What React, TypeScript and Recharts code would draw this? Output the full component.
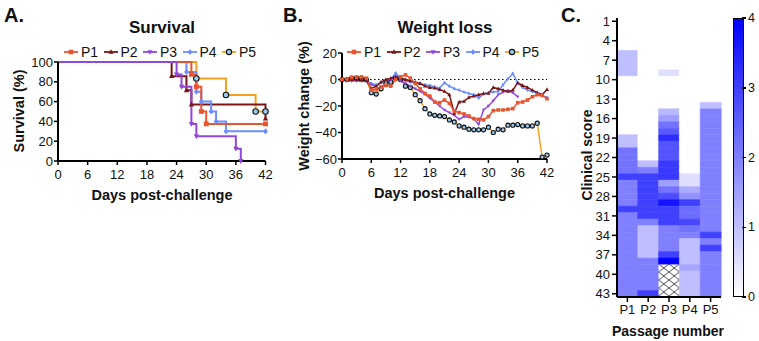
import React from "react";
import { LineChart, Line, XAxis, YAxis, ReferenceLine, BarChart, Bar, Cell } from "recharts";

const FONT = '"Liberation Sans", Arial, Helvetica, sans-serif';

const passages = ["P1", "P2", "P3", "P4", "P5"];
const lineColors = ["#e8552f", "#7a1616", "#9148d8", "#6c8dff", "#f6a022"];
const markerKinds = ["square", "triangle", "invtriangle", "diamond", "circle"];
const circleFill = "#9ccbf0";

// A. survival, Kaplan-Meier steps
const survDaysP1 = [0, 27, 28, 29, 30, 42];
const survP1 = [100, 87.5, 75, 50, 37.5, 37.5];
const survDaysP2 = [0, 23, 26, 27, 42];
const survP2 = [100, 85.7, 71.4, 57.1, 42.9];
const survDaysP3 = [0, 24, 25, 27, 28, 36, 37];
const survP3 = [100, 87.5, 75, 37.5, 25, 12.5, 0];
const survDaysP4 = [0, 26, 28, 29, 31, 32, 34, 42];
const survP4 = [100, 90, 70, 60, 50, 40, 30, 30];
const survDaysP5 = [0, 28, 34, 40, 42];
const survP5 = [100, 83.3, 66.7, 50, 50];

const dayTicks = [0, 6, 12, 18, 24, 30, 36, 42];
const survTicks = [0, 20, 40, 60, 80, 100];

// B. weight change (%)
const weightDays = [0, 1, 2, 3, 4, 5, 6, 7, 8, 9, 10, 11, 12, 13, 14, 15, 16, 17, 18, 19, 20, 21, 22, 23, 24, 25, 26, 27, 28, 29, 30, 31, 32, 33, 34, 35, 36, 37, 38, 39, 40, 41, 42];
const wP1 = [0, 0.5, 1.5, 2, 2, 1, -8, -7.5, -5.5, -4.5, -5, 0, 2, 3.5, 1, -3, -7, -10.5, -12.5, -17, -17.5, -15.5, -18, -24, -25, -26, -27.5, -29.5, -30, -30.5, -28, -23.5, -23, -23, -22.5, -22, -17.5, -17, -15.5, -13, -11.5, -12, -14.5];
const wP2 = [0, 0, 0, 0, 0, -1, -7, -5, -2, 0, 1, 2, 1, 0, -1, -2, -3, -5, -6, -6.5, -7.5, -9, -11.5, -25.5, -17, -16.5, -13.5, -12.5, -11.5, -10.5, -10.5, -6, -7, -8, -9, -8, -2.5, -4.5, -6, -8, -10, -11.5, -7.5];
const wP3 = [0, -1, -1, -1, -1, -1, -4, -5, -2, -1, 0, 2, -1, -3, -5, -7, -9, -11, -14, -17, -20, -23, -25, -27, -30, -28, -28.5, -29.5, -34, -23, -20, -16, -11.5, -9.5, -8.5, -10, -13, null, null, null, null, null, null];
const wP4 = [0, -1, -1, -1, -1, -1, -3, -4, -2, -1, 0, 5, 1, -1, -2, -3, -3, -4, -4.5, -5.5, -6.5, -2.5, -5, -7, -8, -9.5, -10.5, -11.5, -14, -11, -10, -9.5, -9, -4, 0.5, 4.5, -2.5, -6, -8, -9, -10, -12, -13.5];
const wP5 = [0, 0, 1, 1, 0, 0, -10, -11, -7, -3, -2, 1, 0, -5, -6, -11.5, -16, -22, -26, -27, -27.5, -28, -30.5, -32, -35, -36, -37.5, -38, -38, -38, -36, -40, -37.5, -38, -34.5, -34.5, -34, -35, -35, -35, -33, -58.5, -57];
const weightTicks = [-60, -40, -20, 0, 20];

// C. clinical score per day (1..43) per passage; null = no animals left
const scoreDays = [1, 2, 3, 4, 5, 6, 7, 8, 9, 10, 11, 12, 13, 14, 15, 16, 17, 18, 19, 20, 21, 22, 23, 24, 25, 26, 27, 28, 29, 30, 31, 32, 33, 34, 35, 36, 37, 38, 39, 40, 41, 42, 43];
const scoreP1 = [0, 0, 0, 0, 0, 1, 1, 1, 1, 0, 0, 0, 0, 0, 0, 0, 0, 0, 1, 1, 2.2, 2.2, 2.2, 2.2, 3, 2, 2, 2, 2, 3, 2, 2, 2, 2, 2, 2, 2, 2, 2, 2, 2, 2, 2];
const scoreP2 = [0, 0, 0, 0, 0, 0, 0, 0, 0, 0, 0, 0, 0, 0, 0, 0, 0, 0, 0, 0, 0, 0, 1, 2, 3, 3, 3, 3, 3, 3, 3, 2, 1, 1, 1, 1, 1, 2, 2, 2, 2, 2, 3];
const scoreP3 = [0, 0, 0, 0, 0, 0, 0, 0, 0.5, 0, 0, 0, 0, 0, 1.1, 1.5, 2.2, 2.6, 3.3, 2.7, 2.7, 2.7, 3.1, 3.1, 3.1, 1.5, 2.2, 2.8, 3.7, 3, 3, 3, 2, 2, 2, 2, 3, 4, null, null, null, null, null];
const scoreP4 = [0, 0, 0, 0, 0, 0, 0, 0, 0, 0, 0, 0, 0, 0, 0, 0, 0, 0, 0, 0, 0, 0, 0, 0, 0.5, 0.5, 1.3, 1.7, 3, 2.3, 2.3, 2.9, 2.2, 2, 1, 1, 1, 1, 1.4, 1, 1, 1, 1];
const scoreP5 = [0, 0, 0, 0, 0, 0, 0, 0, 0, 0, 0, 0, 0, 1, 2, 2, 2, 2, 2, 2, 2, 2, 2, 2, 2, 2, 2, 2, 2, 2, 2, 2, 2, 3, 2, 3, 2, 2, 2, 2, 2, 2, 2];
const scoreTicks = [1, 4, 7, 10, 13, 16, 19, 22, 25, 28, 31, 34, 37, 40, 43];
const colorbarTicks = [0, 1, 2, 3, 4];

const survData = [
  [survDaysP1, survP1],
  [survDaysP2, survP2],
  [survDaysP3, survP3],
  [survDaysP4, survP4],
  [survDaysP5, survP5],
].map(([days, vals]) => days.map((day, i) => ({ day, v: vals[i] })));

const weightSeries = [wP1, wP2, wP3, wP4, wP5];
const weightRows = weightDays.map((day, i) => {
  const row: any = { day };
  passages.forEach((p, k) => (row[p] = weightSeries[k][i]));
  return row;
});

const scoreSeries = [scoreP1, scoreP2, scoreP3, scoreP4, scoreP5];
const heatRows = passages.map((p) => {
  const row: any = { name: p };
  scoreDays.forEach((d) => (row[`d${d}`] = 1));
  return row;
});

function heatColor(s: number | null) {
  if (s == null) return "url(#hatch)";
  const c = Math.round(255 * (1 - s / 4));
  return `rgb(${c},${c},255)`;
}

const minus = (v: number) => (v < 0 ? `\u2212${Math.abs(v)}` : `${v}`);

function Marker({ kind, cx, cy, color, s }: any) {
  if (cx == null || cy == null) return null;
  if (kind === "square")
    return <rect x={cx - s} y={cy - s} width={2 * s} height={2 * s} fill={color} />;
  if (kind === "triangle")
    return <polygon points={`${cx},${cy - s * 1.2} ${cx + s * 1.1},${cy + s * 0.8} ${cx - s * 1.1},${cy + s * 0.8}`} fill={color} />;
  if (kind === "invtriangle")
    return <polygon points={`${cx},${cy + s * 1.2} ${cx + s * 1.1},${cy - s * 0.8} ${cx - s * 1.1},${cy - s * 0.8}`} fill={color} />;
  if (kind === "diamond")
    return <polygon points={`${cx},${cy - s * 1.3} ${cx + s},${cy} ${cx},${cy + s * 1.3} ${cx - s},${cy}`} fill={color} />;
  return <circle cx={cx} cy={cy} r={s * 1.15} fill={circleFill} stroke="#111" strokeWidth={1.1} />;
}

const makeDot = (k: number, s: number, skipFirst: boolean) => (props: any) => {
  const { cx, cy, index } = props;
  if ((skipFirst && index === 0) || cx == null || cy == null) return <g key={`d${index}`} />;
  return (
    <g key={`d${index}`}>
      <Marker kind={markerKinds[k]} cx={cx} cy={cy} color={lineColors[k]} s={s} />
    </g>
  );
};

function Txt({ x, y, size, bold = true, rotate = false, children }: any) {
  return (
    <div
      style={{
        position: "absolute",
        left: x,
        top: y,
        transform: `translate(-50%, -50%)${rotate ? " rotate(-90deg)" : ""}`,
        whiteSpace: "nowrap",
        fontSize: size,
        fontWeight: bold ? 700 : 400,
        lineHeight: 1,
        color: "#111",
      }}
    >
      {children}
    </div>
  );
}

function LegendRow({ left, top, step }: any) {
  return (
    <div style={{ position: "absolute", left, top, display: "flex", fontSize: 14, lineHeight: "14px", color: "#111" }}>
      {passages.map((p, i) => (
        <div key={p} style={{ display: "flex", alignItems: "center", width: step }}>
          <svg width={14} height={10}>
            <line x1={0} y1={5} x2={14} y2={5} stroke={lineColors[i]} strokeWidth={1.8} />
            <Marker kind={markerKinds[i]} cx={7} cy={5} color={lineColors[i]} s={2.3} />
          </svg>
          <span style={{ marginLeft: 3 }}>{p}</span>
        </div>
      ))}
    </div>
  );
}

const axisLine = { stroke: "#000", strokeWidth: 2 };
const tickLine = { stroke: "#000", strokeWidth: 1.5 };
const tickStyle = { fill: "#111", fontSize: 13, fontFamily: FONT };

export default function App() {
  return (
    <div style={{ position: "absolute", left: 0, top: 0, width: 759, height: 341, background: "#fff", fontFamily: FONT, overflow: "hidden" }}>
      {/* A. Survival */}
      <Txt x={14} y={15} size={20}>A.</Txt>
      <Txt x={162} y={27} size={17}>Survival</Txt>
      <Txt x={19} y={111} size={14.5} rotate>Survival (%)</Txt>
      <Txt x={162} y={195} size={14.5}>Days post-challenge</Txt>
      <div style={{ position: "absolute", left: 0, top: 0 }}>
        <LineChart width={280} height={200} margin={{ top: 62, right: 14.5, bottom: 19, left: 0 }}>
          <XAxis dataKey="day" type="number" domain={[0, 42]} ticks={dayTicks} interval={0} height={20} axisLine={axisLine} tickLine={tickLine} tickSize={4} tickMargin={5} tick={tickStyle} allowDuplicatedCategory={false} />
          <YAxis type="number" domain={[0, 100]} ticks={survTicks} interval={0} width={58} axisLine={axisLine} tickLine={tickLine} tickSize={4} tickMargin={1} tick={tickStyle} />
          {[4, 1, 3, 0, 2].map((k) => (
            <Line
              key={passages[k]}
              data={survData[k]}
              dataKey="v"
              type="stepAfter"
              stroke={lineColors[k]}
              strokeWidth={2}
              dot={makeDot(k, 2.4, true)}
              isAnimationActive={false}
            />
          ))}
        </LineChart>
      </div>
      <LegendRow left={64} top={45} step={39.5} />

      {/* B. Weight loss */}
      <Txt x={293} y={15} size={20}>B.</Txt>
      <Txt x={445} y={27} size={17}>Weight loss</Txt>
      <Txt x={304} y={106} size={14.5} rotate>Weight change (%)</Txt>
      <Txt x={444.5} y={193} size={14.5}>Days post-challenge</Txt>
      <div style={{ position: "absolute", left: 280, top: 0 }}>
        <LineChart width={290} height={200} data={weightRows} margin={{ top: 53, right: 23, bottom: 21, left: 0 }}>
          <XAxis dataKey="day" type="number" domain={[0, 42]} ticks={dayTicks} interval={0} height={20} axisLine={axisLine} tickLine={tickLine} tickSize={4} tickMargin={5} tick={tickStyle} />
          <YAxis type="number" domain={[-60, 20]} ticks={weightTicks} interval={0} width={62} axisLine={axisLine} tickLine={tickLine} tickSize={4} tickMargin={1} tick={tickStyle} tickFormatter={minus} />
          <ReferenceLine y={0} stroke="#000" strokeWidth={1} strokeDasharray="1.5 2.5" />
          {[4, 3, 2, 1, 0].map((k) => (
            <Line
              key={passages[k]}
              dataKey={passages[k]}
              type="linear"
              stroke={lineColors[k]}
              strokeWidth={1.5}
              dot={makeDot(k, k === 2 || k === 3 ? 1.5 : 1.8, false)}
              isAnimationActive={false}
            />
          ))}
        </LineChart>
      </div>
      <LegendRow left={347} top={45} step={39.5} />

      {/* C. Clinical score heatmap */}
      <Txt x={571} y={15} size={20}>C.</Txt>
      <Txt x={587} y={155} size={14} rotate>Clinical score</Txt>
      <Txt x={668} y={331} size={14}>Passage number</Txt>
      <div style={{ position: "absolute", left: 560, top: 0 }}>
        <BarChart width={175} height={320} data={heatRows} margin={{ top: 18, right: 14, bottom: 3, left: 0 }} barCategoryGap={0} barGap={0}>
          <defs>
            <pattern id="hatch" x={98.6} y={0} width={10.4} height={8} patternUnits="userSpaceOnUse">
              <rect width={10.4} height={8} fill="#fff" />
              <path d="M0,0 L10.4,8 M0,8 L10.4,0" stroke="#222" strokeWidth={0.8} />
            </pattern>
          </defs>
          <XAxis dataKey="name" height={20} interval={0} axisLine={axisLine} tickLine={tickLine} tickSize={5} tickMargin={3} tick={tickStyle} />
          <XAxis xAxisId="top" orientation="top" dataKey="name" height={0} tick={false} tickLine={false} axisLine={axisLine} />
          <YAxis
            type="number"
            domain={[0, 43]}
            reversed
            ticks={scoreTicks.map((t) => t - 0.5)}
            tickFormatter={(v: number) => String(v + 0.5)}
            interval={0}
            width={57}
            axisLine={axisLine}
            tickLine={tickLine}
            tickSize={5}
            tickMargin={2}
            tick={tickStyle}
          />
          <YAxis yAxisId="right" orientation="right" type="number" domain={[0, 43]} width={0} tick={false} tickLine={false} axisLine={axisLine} />
          {scoreDays.map((d, i) => (
            <Bar key={d} dataKey={`d${d}`} stackId="h" isAnimationActive={false}>
              {passages.map((p, k) => {
                const s = scoreSeries[k][i];
                const c = heatColor(s);
                return <Cell key={p} fill={c} stroke={s == null ? "none" : c} strokeWidth={0.6} />;
              })}
            </Bar>
          ))}
        </BarChart>
      </div>

      {/* colour scale */}
      <div
        style={{
          position: "absolute",
          left: 732.5,
          top: 18,
          width: 11.5,
          height: 279,
          boxSizing: "border-box",
          border: "1.5px solid #000",
          background: "linear-gradient(to top, #ffffff, #0000ff)",
        }}
      />
      {colorbarTicks.map((t) => (
        <React.Fragment key={t}>
          <div style={{ position: "absolute", left: 742, top: 297 - t * 69.75 - 0.75, width: 4, height: 1.5, background: "#000" }} />
          <div style={{ position: "absolute", left: 748, top: 297 - t * 69.75 - 7, fontSize: 12.5, lineHeight: "14px", color: "#111" }}>{t}</div>
        </React.Fragment>
      ))}
    </div>
  );
}
